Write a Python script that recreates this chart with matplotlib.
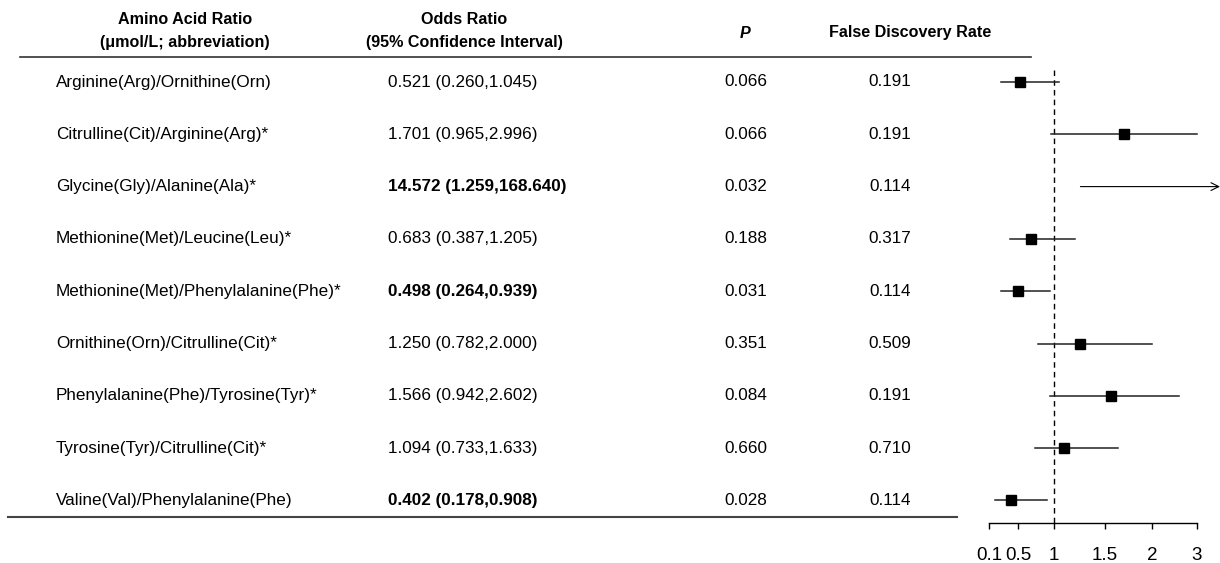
# Forest plot table of amino acid ratios

import numpy as np
import matplotlib
matplotlib.use('Agg')
import matplotlib.pyplot as plt

plt.rcParams['font.family'] = ['Liberation Sans', 'DejaVu Sans']

# Data
names = ['Arginine(Arg)/Ornithine(Orn)',
         'Citrulline(Cit)/Arginine(Arg)*',
         'Glycine(Gly)/Alanine(Ala)*',
         'Methionine(Met)/Leucine(Leu)*',
         'Methionine(Met)/Phenylalanine(Phe)*',
         'Ornithine(Orn)/Citrulline(Cit)*',
         'Phenylalanine(Phe)/Tyrosine(Tyr)*',
         'Tyrosine(Tyr)/Citrulline(Cit)*',
         'Valine(Val)/Phenylalanine(Phe)']
odds = [0.521, 1.701, 14.572, 0.683, 0.498, 1.250, 1.566, 1.094, 0.402]
ci_lo = [0.260, 0.965, 1.259, 0.387, 0.264, 0.782, 0.942, 0.733, 0.178]
ci_hi = [1.045, 2.996, 168.640, 1.205, 0.939, 2.000, 2.602, 1.633, 0.908]
p_vals = ['0.066', '0.066', '0.032', '0.188', '0.031', '0.351', '0.084', '0.660', '0.028']
fdr_vals = ['0.191', '0.191', '0.114', '0.317', '0.114', '0.509', '0.191', '0.710', '0.114']
tick_vals = [0.1, 0.5, 1, 1.5, 2, 3]
tick_labels = ['0.1', '0.5', '1', '1.5', '2', '3']

# the x axis of the original is not uniform, so map it piecewise
brk_p = np.array([0, 29, 65, 116, 163, 208], float)
brk_v = np.array(tick_vals, float)
s0 = (brk_p[1] - brk_p[0]) / (brk_v[1] - brk_v[0])
s1 = (brk_p[-1] - brk_p[-2]) / (brk_v[-1] - brk_v[-2])


def fwd(x):
    x = np.asarray(x, float)
    y = np.interp(x, brk_v, brk_p)
    y = np.where(x < brk_v[0], brk_p[0] + (x - brk_v[0]) * s0, y)
    y = np.where(x > brk_v[-1], brk_p[-1] + (x - brk_v[-1]) * s1, y)
    return y


def inv(y):
    y = np.asarray(y, float)
    x = np.interp(y, brk_p, brk_v)
    x = np.where(y < brk_p[0], brk_v[0] + (y - brk_p[0]) / s0, x)
    x = np.where(y > brk_p[-1], brk_v[-1] + (y - brk_p[-1]) / s1, x)
    return x


W, H = 1220, 563
fig = plt.figure(figsize=(W / 100, H / 100), dpi=100)

# Table part, in pixel-like coordinates
ax = fig.add_axes([0, 0, 1, 1])
ax.set_xlim(0, W)
ax.set_ylim(H, 0)
ax.axis('off')

rows = 82 + np.arange(len(names)) * 52.3
fs = 12.3
hfs = 11.6

ax.text(185, 20, 'Amino Acid Ratio', ha='center', va='center', fontsize=hfs, fontweight='bold')
ax.text(185, 43, '(\u03bcmol/L; abbreviation)', ha='center', va='center', fontsize=hfs, fontweight='bold')
ax.text(464, 20, 'Odds Ratio', ha='center', va='center', fontsize=hfs, fontweight='bold')
ax.text(464, 43, '(95% Confidence Interval)', ha='center', va='center', fontsize=hfs, fontweight='bold')
ax.text(745, 33, 'P', ha='center', va='center', fontsize=hfs, fontweight='bold', fontstyle='italic')
ax.text(910, 33, 'False Discovery Rate', ha='center', va='center', fontsize=hfs, fontweight='bold')
ax.plot([20, 1031], [57, 57], color='#333333', lw=1.2)
ax.plot([8, 957], [517, 517], color='#444444', lw=1.5)

for i, y in enumerate(rows):
    sig = ci_lo[i] > 1 or ci_hi[i] < 1
    ax.text(56, y, names[i], ha='left', va='center', fontsize=fs)
    ax.text(388, y, '%.3f (%.3f,%.3f)' % (odds[i], ci_lo[i], ci_hi[i]), ha='left', va='center',
            fontsize=fs, fontweight='bold' if sig else 'normal')
    ax.text(746, y, p_vals[i], ha='center', va='center', fontsize=fs)
    ax.text(890, y, fdr_vals[i], ha='center', va='center', fontsize=fs)

# Forest part
fx = fig.add_axes([960 / W, 0, 260 / W, 1])
fx.set_xscale('function', functions=(fwd, inv))
fx.set_xlim(inv(-29), inv(231))
fx.set_ylim(H, 0)
fx.patch.set_alpha(0)
for s in ['top', 'left', 'right']:
    fx.spines[s].set_visible(False)
fx.spines['bottom'].set_position(('data', 523))
fx.spines['bottom'].set_bounds(0.1, 3)
fx.spines['bottom'].set_linewidth(1.0)
fx.set_yticks([])
fx.set_xticks(tick_vals)
fx.set_xticklabels(tick_labels)
fx.xaxis.set_minor_locator(matplotlib.ticker.NullLocator())
fx.tick_params(axis='x', direction='out', length=4, width=1, pad=13, labelsize=13.5)

fx.vlines(1, 70, 523, colors='black', linestyles=(0, (4, 3)), lw=1)

xmax = inv(231)
for i, y in enumerate(rows):
    if ci_hi[i] > xmax:
        fx.annotate('', xy=(xmax, y), xytext=(ci_lo[i], y),
                    arrowprops=dict(arrowstyle='->', color='black', lw=0.8,
                                    shrinkA=0, shrinkB=0, mutation_scale=14))
    else:
        fx.plot([ci_lo[i], ci_hi[i]], [y, y], color='#222222', lw=1.1)
        fx.plot(odds[i], y, 's', color='black', markersize=7.5)

fig.savefig('out.png', dpi=100)
